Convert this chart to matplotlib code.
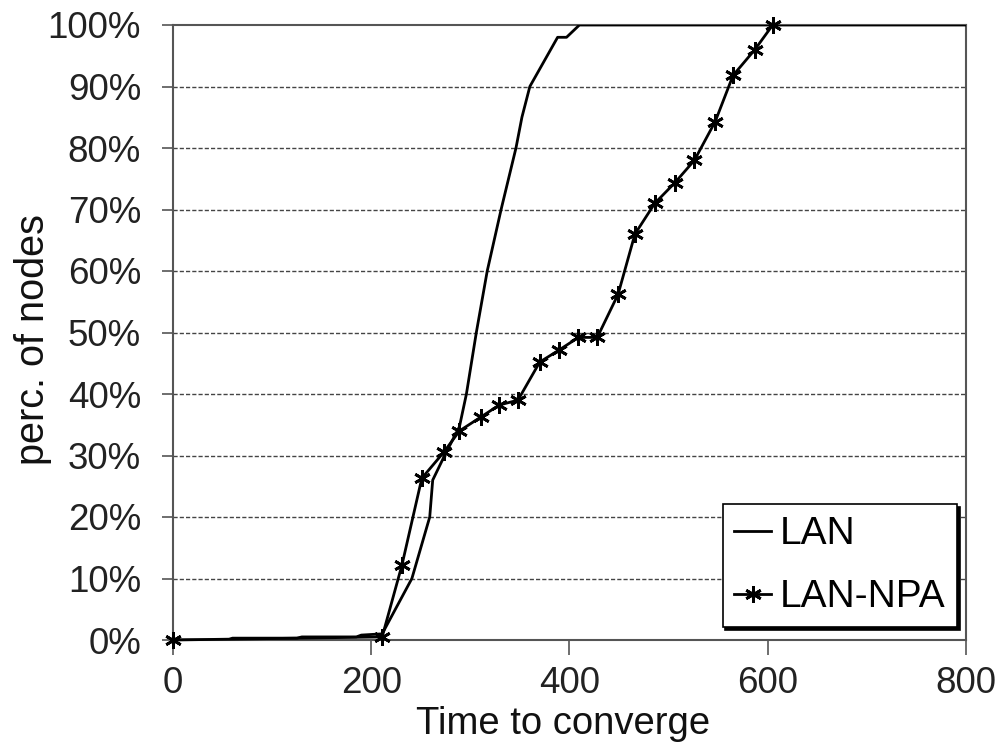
import matplotlib
matplotlib.use("Agg")
import matplotlib.pyplot as plt
from matplotlib.ticker import FuncFormatter

plt.rcParams['font.family'] = ['Liberation Sans', 'DejaVu Sans']

# values
lan_x = [0, 55, 60, 125, 130, 185, 190, 211, 241, 259, 262, 274, 289, 296, 306,
         317, 331, 346, 352, 360, 388, 397, 410, 800]
lan_y = [0, 0, 0.3, 0.3, 0.5, 0.5, 0.8, 1.0, 10, 20, 26, 30, 34.7, 40, 50,
         60, 70, 80, 85, 90, 98, 98, 100, 100]

npa_x = [0, 211, 231, 251, 273, 289, 311, 329, 348, 370, 389, 409, 428, 449,
         466, 486, 506, 526, 547, 565, 587, 605]
npa_y = [0, 0.5, 12.2, 26.3, 30.5, 34, 36.3, 38.2, 39, 45.2, 47.1, 49.2, 49.2, 56.2,
         66, 71, 74.3, 78, 84.3, 91.8, 96, 100]

x_ticks = [0, 200, 400, 600, 800]
y_ticks = [0, 10, 20, 30, 40, 50, 60, 70, 80, 90, 100]

W, H = 1003, 751
fig = plt.figure(figsize=(W / 100, H / 100), dpi=100)
ax = fig.add_axes([173 / W, 1 - 640 / H, (966 - 173) / W, (640 - 25) / H])

ax.plot(lan_x, lan_y, color="black", lw=2.0, label="LAN", zorder=3)
ax.plot(npa_x, npa_y, color="black", lw=2.0, marker=(6, 2, 0), markersize=12,
        markeredgewidth=2.0, label="LAN-NPA", zorder=4, clip_on=False)

ax.set_xlim(0, 800)
ax.set_ylim(0, 100)
ax.set_xticks(x_ticks)
ax.set_yticks(y_ticks)
ax.yaxis.set_major_formatter(FuncFormatter(lambda v, p: f"{int(v)}%"))

for v in y_ticks[1:-1]:
    ax.axhline(v, color="#444444", lw=1.0, ls=(0, (3, 1.5)), zorder=1)

for s in ["left", "bottom", "top", "right"]:
    ax.spines[s].set_color("#555555")
    ax.spines[s].set_linewidth(1.5)

ax.tick_params(axis="y", direction="out", length=8, width=1.2, color="#555555",
               labelsize=26.5, pad=15, labelcolor="#222222")
ax.tick_params(axis="x", direction="out", length=11, width=1.2, color="#555555",
               labelsize=26.5, pad=8, labelcolor="#222222")

ax.set_xlabel("Time to converge", fontsize=27.5, color="#111111")
ax.xaxis.set_label_coords(0.492, -0.108)
ax.set_ylabel("perc. of nodes", fontsize=28.5, color="#111111")
ax.yaxis.set_label_coords(-0.153, 0.488)

leg = ax.legend(loc="lower right", bbox_to_anchor=(957 / W, 1 - 627 / H),
                bbox_transform=fig.transFigure, fontsize=28, frameon=True,
                fancybox=False, shadow={"color": "black", "alpha": 1},
                handlelength=0.95, handletextpad=0.22, labelspacing=0.7,
                borderpad=0.3, borderaxespad=0)
leg.get_frame().set_edgecolor("black")
leg.get_frame().set_linewidth(1.2)
leg.get_frame().set_alpha(1)

fig.savefig("out.png", dpi=100)
